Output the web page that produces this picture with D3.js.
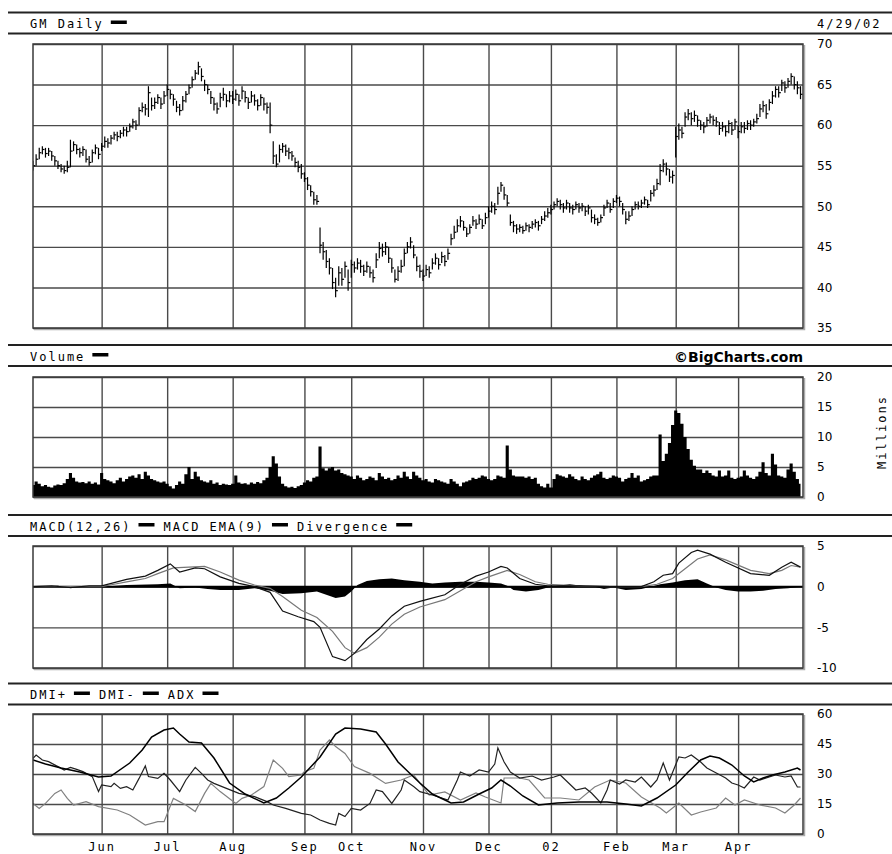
<!DOCTYPE html>
<html>
<head>
<meta charset="utf-8">
<script src="https://cdn.jsdelivr.net/npm/d3@7"></script>
<style>
  body { margin: 0; background: #fff; }
  svg { display: block; }
  .hdr { font-family: "DejaVu Sans Mono", monospace; font-size: 12px; letter-spacing: 2px; fill: #000; }
  .rule { stroke: #222; stroke-width: 1.8; }
  .yaxis .domain, .xaxis .domain, .mlab .domain { display: none; }
  .yaxis line, .xaxis line { stroke: #4a4a4a; stroke-width: 1.4; }
  .yaxis text { font-family: "DejaVu Sans", sans-serif; font-size: 12px; fill: #000; }
  .mlab line { display: none; }
  .mlab text { font-family: "DejaVu Sans Mono", monospace; font-size: 12px; letter-spacing: 2px; fill: #000; }
</style>
</head>
<body>
<svg id="chart" width="892" height="854"></svg>
<script>
// trading-day index 0 = May 1 2001, 246 = Apr 29 2002
const monthLabels = ['Jun', 'Jul', 'Aug', 'Sep', 'Oct', 'Nov', 'Dec', '02', 'Feb', 'Mar', 'Apr']
const monthStart = [22, 43, 64, 87, 102, 125, 146, 166, 187, 206, 226]

const priceTicks = [35, 40, 45, 50, 55, 60, 65, 70]
const volTicks = [0, 5, 10, 15, 20]
const macdTicks = [-10, -5, 0, 5]
const dmiTicks = [0, 15, 30, 45, 60]

const close = [
  55.0, 55.8, 56.6, 57.0, 56.5, 56.8, 56.2, 55.6, 55.0, 54.6, 54.4,
  54.8, 56.8, 57.6, 57.0, 56.6, 57.0, 55.8, 55.4, 56.6, 57.2, 56.4,
  57.4, 58.0, 57.8, 58.4, 58.8, 58.6, 59.0, 59.4, 59.2, 59.8, 60.4,
  60.0, 61.8, 62.2, 62.0, 64.0, 62.4, 62.8, 63.4, 62.6, 63.6,
  64.4, 63.8, 63.2, 62.2, 61.8, 63.0, 63.8, 64.6, 65.6, 66.4, 67.2,
  66.0, 65.0, 64.4, 63.4, 62.6, 62.0, 63.4, 63.8, 63.0, 63.6,
  63.2, 63.8, 63.0, 64.2, 63.4, 62.8, 63.6, 63.0, 62.4, 63.4, 62.6, 62.2,
  60.0, 56.2, 55.2, 57.0, 57.4, 56.8, 56.6, 56.2, 55.4, 54.8, 54.0,
  53.4, 52.6, 51.8, 50.8, 50.6,
  45.2, 44.4, 43.2, 42.4, 40.6, 39.6, 41.8, 41.0, 42.6, 40.6,
  42.8, 42.4, 43.0, 42.6, 42.0, 42.6, 41.8, 41.2, 43.4, 44.8, 44.4,
  45.0, 43.6, 42.4, 41.0, 42.0, 42.6, 44.2, 45.0, 45.6, 44.0, 42.6, 42.0,
  41.4, 42.2, 41.8, 43.0, 43.6, 42.8, 43.8, 43.2, 44.2, 46.0, 46.8,
  47.6, 48.2, 47.4, 46.6, 47.4, 48.2, 47.8, 48.4, 47.6, 48.6,
  49.4, 50.0, 49.6, 51.6, 52.6, 51.4, 50.4, 48.0, 47.6, 47.2,
  47.4, 47.0, 47.6, 47.4, 47.8, 48.0, 47.6, 48.4, 48.8, 49.2,
  49.6, 50.2, 50.6, 50.2, 49.8, 50.4, 49.8, 49.6, 50.2, 49.8, 50.0,
  49.4, 49.8, 48.6, 48.4, 48.0, 48.6, 49.8, 50.4, 49.6, 50.6,
  51.0, 50.6, 49.6, 48.4, 48.8, 49.6, 50.2, 50.0, 50.4, 50.8,
  50.2, 51.6, 52.0, 52.8, 54.4, 55.2, 54.6, 53.6, 53.8,
  58.6, 59.4, 59.0, 61.0, 61.4, 60.8, 61.2, 60.6, 60.0, 59.8,
  60.6, 61.0, 60.6, 60.4, 59.6, 59.8, 59.2, 60.2, 59.4, 60.4,
  59.2, 59.8, 59.6, 60.2, 60.0, 60.4, 60.8, 62.0, 62.4, 61.4, 62.8,
  63.6, 64.4, 64.0, 65.2, 64.6, 65.4, 66.0, 65.0, 64.6, 63.8
]

const high = [
  55.6, 56.4, 57.2, 57.4, 57.2, 57.2, 56.8, 56.2, 55.6, 55.2, 55.0,
  55.6, 58.2, 58.0, 57.6, 57.2, 57.4, 57.0, 56.2, 57.0, 57.6, 57.2,
  57.8, 58.6, 58.4, 58.8, 59.2, 59.2, 59.4, 59.8, 59.8, 60.2, 60.8,
  60.6, 62.2, 62.8, 62.6, 64.8, 63.4, 63.4, 63.8, 63.4, 64.2,
  65.0, 64.4, 63.8, 63.0, 62.6, 63.6, 64.2, 65.0, 66.0, 66.8, 67.8,
  67.0, 65.6, 65.0, 64.2, 63.4, 62.8, 64.0, 64.6, 63.8, 64.2,
  64.2, 64.4, 63.8, 64.8, 64.2, 63.4, 64.2, 63.8, 63.2, 63.8, 63.4, 62.8,
  62.8, 58.0, 56.4, 57.6, 57.8, 57.6, 57.2, 56.8, 56.0, 55.6, 55.2,
  54.2, 53.6, 52.6, 51.8, 51.4,
  47.4, 45.6, 44.6, 43.6, 42.4, 41.2, 42.6, 42.4, 43.2, 42.2,
  43.4, 43.2, 43.6, 43.4, 42.8, 43.2, 42.6, 42.2, 44.2, 45.6, 45.4,
  45.6, 45.0, 43.6, 42.2, 42.6, 43.4, 44.8, 45.6, 46.2, 45.2, 43.8, 42.8,
  42.2, 42.8, 42.6, 43.6, 44.2, 43.6, 44.4, 44.0, 44.8, 46.6, 47.6,
  48.4, 48.8, 48.2, 47.4, 47.8, 48.8, 48.4, 49.0, 48.4, 49.2,
  50.0, 50.6, 50.4, 52.4, 53.0, 52.4, 51.4, 49.0, 48.2, 47.8,
  47.8, 47.6, 48.0, 47.8, 48.2, 48.4, 48.2, 48.8, 49.4, 49.8,
  50.2, 50.6, 51.0, 50.8, 50.4, 50.8, 50.4, 50.2, 50.6, 50.4, 50.4,
  50.0, 50.2, 49.6, 49.0, 48.6, 49.0, 50.2, 50.8, 50.4, 51.0,
  51.4, 51.2, 50.4, 49.4, 49.4, 50.0, 50.6, 50.6, 50.8, 51.2,
  50.8, 52.0, 52.6, 53.4, 55.2, 55.8, 55.4, 54.6, 54.4,
  59.8, 60.2, 59.8, 61.6, 62.0, 61.6, 61.8, 61.2, 60.6, 60.4,
  61.0, 61.4, 61.2, 61.0, 60.4, 60.4, 60.0, 60.6, 60.4, 60.8,
  60.0, 60.4, 60.4, 60.6, 60.6, 60.8, 61.4, 62.6, 63.0, 62.6, 63.2,
  64.2, 64.8, 64.8, 65.6, 65.4, 65.8, 66.4, 66.0, 65.4, 64.8
]

const low = [
  54.4, 55.0, 55.8, 56.4, 56.0, 56.2, 55.6, 55.0, 54.6, 54.2, 54.0,
  54.2, 54.8, 56.8, 56.4, 56.0, 56.2, 55.4, 55.0, 55.4, 56.4, 55.8,
  56.8, 57.2, 57.2, 57.6, 58.2, 58.0, 58.4, 58.6, 58.6, 59.2, 59.6,
  59.4, 60.0, 61.6, 61.2, 61.0, 61.8, 62.0, 62.6, 62.0, 62.6,
  63.6, 63.2, 62.4, 61.6, 61.2, 61.8, 62.8, 63.8, 64.6, 65.6, 66.2,
  65.4, 64.2, 63.8, 62.6, 61.8, 61.4, 62.2, 63.0, 62.2, 62.8,
  62.6, 63.0, 62.4, 63.2, 62.8, 62.0, 62.8, 62.4, 61.8, 62.4, 61.8, 61.4,
  59.0, 55.2, 54.8, 55.4, 56.6, 56.2, 55.8, 55.6, 54.8, 54.2, 53.4,
  53.0, 52.0, 51.2, 50.2, 50.2,
  44.2, 43.4, 42.4, 41.6, 39.8, 38.8, 40.2, 40.2, 41.2, 39.6,
  41.2, 41.8, 42.2, 41.8, 41.4, 41.8, 41.2, 40.6, 42.4, 43.6, 43.8,
  44.0, 43.0, 41.8, 40.6, 40.8, 41.8, 42.6, 44.2, 44.8, 43.6, 42.0, 41.2,
  40.8, 41.4, 41.2, 42.2, 42.8, 42.2, 43.0, 42.6, 43.4, 45.2, 46.0,
  46.8, 47.4, 47.0, 46.2, 46.6, 47.6, 47.2, 47.8, 47.2, 47.8,
  48.6, 49.2, 49.0, 50.2, 51.8, 50.8, 50.0, 47.6, 46.8, 46.6,
  46.8, 46.6, 47.0, 46.8, 47.2, 47.4, 47.0, 47.8, 48.2, 48.6,
  49.0, 49.6, 50.0, 49.6, 49.2, 49.6, 49.2, 49.0, 49.6, 49.2, 49.4,
  48.8, 49.0, 48.0, 47.8, 47.6, 48.0, 48.8, 49.8, 49.2, 49.8,
  50.4, 50.0, 49.0, 47.8, 48.2, 48.8, 49.6, 49.6, 49.8, 50.2,
  49.8, 50.6, 51.2, 52.0, 52.6, 54.2, 53.8, 53.0, 52.8,
  56.0, 58.2, 58.4, 59.8, 60.6, 60.0, 60.4, 59.8, 59.4, 59.0,
  59.8, 60.2, 60.0, 59.8, 58.8, 59.2, 58.6, 59.0, 58.8, 59.4,
  58.4, 59.0, 59.0, 59.4, 59.4, 59.8, 60.2, 61.0, 61.6, 60.8, 61.8,
  62.6, 63.4, 63.4, 64.2, 64.0, 64.6, 65.0, 64.4, 63.8, 63.2
]

// millions of shares
const volume = [
  2.0, 2.6, 2.2, 1.8, 2.0, 1.7, 1.6, 1.9, 2.1, 2.0, 2.3,
  3.0, 4.0, 3.2, 2.6, 2.4, 2.5, 2.3, 2.6, 2.2, 2.4, 2.1,
  4.0, 3.0, 2.8, 2.6, 2.3, 2.8, 3.2, 2.6, 3.0, 3.4, 3.6,
  3.2, 3.8, 3.0, 4.2, 3.6, 3.0, 2.8, 2.6, 2.4, 2.6, 2.2,
  1.8, 1.4, 2.0, 2.6, 2.2, 3.8, 5.0, 3.0, 4.2, 3.4, 2.8,
  2.6, 2.4, 2.8, 2.2, 2.4, 2.0, 2.2, 2.1, 2.0, 2.2, 3.6,
  2.4, 2.2, 2.3, 2.1, 2.4, 2.2, 2.5, 2.3, 2.8, 3.2, 5.0,
  6.8, 5.6, 3.4, 2.2, 1.8, 1.6, 1.7, 1.5, 1.8, 2.0, 2.4,
  2.8, 2.6, 3.2, 3.4, 8.4, 4.8, 4.4, 4.8, 5.0, 4.4, 4.6,
  4.0, 3.8, 3.6, 3.4, 3.0, 3.6, 3.2, 2.8, 3.0, 3.4, 3.2,
  2.8, 4.0, 3.4, 3.0, 3.2, 2.8, 3.0, 3.6, 3.2, 4.2, 3.4,
  3.0, 4.2, 3.6, 3.2, 2.8, 3.0, 2.6, 2.4, 3.0, 2.8, 2.6,
  2.4, 2.2, 3.0, 2.6, 2.2, 1.8, 2.4, 2.6, 2.8, 3.2, 3.0,
  3.2, 3.6, 3.4, 3.0, 2.8, 3.0, 3.6, 3.4, 3.2, 8.6, 4.6,
  3.6, 3.4, 3.4, 3.4, 3.2, 3.4, 3.0, 3.2, 2.2, 1.8, 1.6,
  2.2, 1.6, 3.0, 3.8, 3.6, 3.4, 3.2, 3.8, 3.4, 3.0, 2.8,
  3.4, 3.0, 2.8, 3.2, 3.6, 3.8, 4.2, 3.2, 3.0, 3.2, 3.6,
  3.4, 3.2, 2.6, 3.0, 3.2, 4.0, 3.2, 3.6, 2.6, 2.8, 3.0,
  3.4, 3.6, 3.6, 10.4, 6.0, 7.2, 9.0, 12.0, 14.4, 14.0, 12.2,
  10.0, 8.0, 6.2, 5.2, 4.6, 4.6, 4.0, 4.4, 4.0, 3.6, 3.4,
  4.4, 3.4, 3.6, 4.4, 3.2, 3.0, 3.2, 3.4, 4.4, 3.6, 3.2,
  3.0, 3.4, 4.2, 5.8, 4.0, 3.6, 7.2, 5.4, 3.6, 3.4, 3.2,
  4.6, 5.6, 4.2, 3.0, 2.2
]

// [trading day, value]
const macd = [[0, 0], [6, 0.1], [12, -0.1], [18, 0.1], [22, 0.1], [26, 0.5], [30, 0.9], [36, 1.3], [40, 2.0], [44, 2.8], [47, 1.8], [52, 2.3], [55, 2.2], [60, 1.2], [66, 0.4], [71, 0.0], [76, -0.7], [80, -3.0], [85, -3.7], [90, -4.3], [92, -5.0], [96, -8.6], [100, -9.1], [103, -8.2], [107, -6.5], [111, -5.2], [115, -3.6], [119, -2.4], [124, -1.8], [127, -1.5], [132, -1.0], [137, 0.3], [142, 1.3], [146, 1.8], [150, 2.5], [152, 2.3], [156, 1.0], [161, 0.3], [165, 0.1], [175, 0.1], [185, 0.0], [195, 0.0], [199, 0.6], [202, 1.4], [205, 1.6], [207, 2.9], [211, 4.2], [213, 4.5], [217, 4.0], [222, 3.0], [230, 1.6], [236, 1.4], [240, 2.4], [243, 3.0], [246, 2.4]]

const macdEma = [[0, 0], [22, 0.0], [26, 0.3], [30, 0.6], [36, 1.0], [40, 1.6], [45, 2.3], [50, 2.4], [55, 2.5], [60, 1.8], [66, 0.8], [71, 0.2], [76, -0.2], [80, -1.2], [86, -2.9], [91, -3.8], [96, -5.5], [100, -7.5], [103, -8.2], [107, -7.5], [111, -6.2], [115, -4.6], [119, -3.4], [124, -2.5], [132, -1.6], [137, -0.5], [142, 0.6], [146, 1.2], [152, 2.0], [156, 1.5], [161, 0.6], [165, 0.3], [175, 0.1], [185, 0.0], [195, 0.0], [200, 0.3], [205, 1.0], [209, 2.2], [213, 3.4], [217, 3.9], [222, 3.3], [230, 2.0], [236, 1.6], [240, 2.0], [243, 2.6], [246, 2.4]]

const divergence = [[0, 0], [8, 0.1], [12, -0.2], [16, 0], [22, 0], [30, 0.2], [40, 0.3], [44, 0.4], [47, -0.2], [52, -0.1], [56, -0.3], [60, -0.4], [66, -0.4], [71, -0.2], [76, -0.5], [80, -0.9], [86, -0.8], [91, -0.6], [94, -1.0], [97, -1.4], [100, -1.2], [102, -0.6], [104, 0.2], [107, 0.7], [111, 0.9], [115, 1.0], [119, 0.8], [124, 0.6], [128, 0.4], [132, 0.5], [137, 0.6], [142, 0.6], [146, 0.5], [150, 0.4], [152, 0.1], [154, -0.4], [158, -0.6], [162, -0.4], [165, -0.1], [168, 0.1], [172, 0.3], [176, 0.1], [180, 0], [183, -0.3], [186, -0.1], [190, -0.4], [195, -0.3], [198, 0], [201, 0.3], [205, 0.5], [209, 0.8], [213, 0.9], [216, 0.4], [219, -0.1], [222, -0.4], [226, -0.6], [230, -0.6], [234, -0.5], [238, -0.3], [242, -0.2], [246, 0]]

const dmiPlus = [[0, 37.8], [1, 39.5], [3, 37], [5, 36.2], [8, 33.7], [10, 32], [12, 33.3], [14, 32.3], [16, 31.2], [19, 28.7], [21, 21.2], [22, 24.5], [25, 23.7], [26, 25.3], [28, 22.8], [30, 23.7], [32, 22], [34, 27.8], [36, 34], [37, 28.7], [40, 27.8], [42, 30.3], [44, 27], [47, 21.2], [49, 27], [52, 33.3], [54, 30.3], [56, 27], [58, 25.3], [62, 22.8], [66, 20.3], [71, 18.7], [75, 16.2], [77, 14.5], [81, 12.8], [86, 10.3], [89, 9.5], [92, 7], [95, 5.3], [97, 4.5], [98, 10.3], [100, 8.7], [102, 12.8], [105, 12], [108, 15.3], [110, 22], [112, 21.2], [115, 15.3], [118, 22], [119, 27], [122, 23.7], [124, 21.2], [128, 19.5], [131, 18], [133, 17], [136, 27], [137, 31], [140, 29], [143, 32], [146, 31], [148, 35], [149, 43], [151, 36], [153, 31], [156, 28], [160, 29], [163, 27], [167, 28.5], [169, 29.5], [172, 25], [174, 22], [177, 23], [179, 20.5], [182, 15.5], [184, 22], [185, 27], [188, 25], [190, 27], [193, 26], [195, 28.5], [198, 23.5], [200, 27], [202, 35.5], [204, 27], [207, 38.5], [209, 38], [211, 39.5], [214, 36], [216, 33], [219, 30.5], [222, 28], [224, 25.5], [226, 24.5], [228, 23], [231, 28.5], [233, 27], [236, 28.5], [238, 29.5], [241, 28.5], [243, 29], [245, 23.5], [246, 23.5]]

const dmiMinus = [[0, 15.3], [2, 12.8], [4, 15.3], [7, 20.3], [9, 22], [11, 17.8], [13, 14.5], [17, 16.2], [21, 13.7], [27, 12], [31, 9.5], [36, 4.5], [40, 6.2], [42, 6.2], [45, 17.8], [49, 14.5], [52, 11.2], [55, 20.3], [57, 25.3], [60, 21.2], [65, 15.3], [67, 17.8], [70, 19.5], [74, 23.7], [77, 37], [80, 32.8], [82, 28.7], [86, 29.5], [87, 31.2], [90, 32.8], [92, 42], [95, 47], [97, 43.7], [100, 40.3], [103, 33.7], [108, 30.3], [113, 25.3], [118, 27], [122, 29.5], [127, 19.5], [132, 21], [137, 17], [142, 20.5], [145, 18.5], [150, 15.5], [151, 28], [156, 28], [159, 27], [164, 18], [169, 18], [175, 17], [180, 23.5], [185, 27], [190, 25.5], [195, 18.5], [201, 13], [203, 10.5], [207, 15.5], [211, 9.5], [214, 11], [219, 13], [222, 18], [225, 14.5], [228, 17], [233, 14.5], [238, 13], [241, 10.5], [244, 14.5], [246, 18]]

const adx = [[0, 37], [4, 35], [9, 33], [15, 31], [21, 28.5], [25, 29], [31, 35.5], [35, 42], [38, 48.5], [42, 52], [45, 53], [47, 50], [50, 46], [54, 45.5], [58, 38], [63, 25.5], [68, 20], [74, 15.5], [78, 18], [82, 23], [86, 28.5], [92, 38.5], [97, 50], [100, 53], [105, 52.5], [110, 51], [113, 45], [117, 36], [121, 30], [124, 25.5], [128, 20], [134, 15.5], [138, 16], [143, 20], [147, 23], [150, 27], [153, 24], [157, 19], [162, 14.5], [168, 15.5], [175, 16], [184, 16], [190, 15], [195, 14], [200, 18], [206, 24.5], [210, 31], [214, 37], [217, 39], [220, 38], [224, 34.5], [228, 29], [231, 26], [234, 28], [237, 29.5], [241, 31], [245, 33], [246, 32]]

const svg = d3.select('#chart')
const left = 33
const right = 803

const x = d3.scaleLinear().domain([0, 246.8]).range([left, right])

let clipCount = 0

function panel(top, bottom, domain, ticks) {
  const y = d3.scaleLinear().domain(domain).range([bottom, top])
  const g = svg.append('g')

  g.append('g')
    .attr('class', 'yaxis')
    .attr('transform', `translate(${right},0)`)
    .call(d3.axisRight(y).tickValues(ticks).tickSize(-(right - left)).tickPadding(14).tickFormat(d => String(d)))

  g.append('g')
    .attr('class', 'xaxis')
    .attr('transform', `translate(0,${bottom})`)
    .call(d3.axisBottom(x).tickValues(monthStart).tickSize(-(bottom - top)).tickFormat(''))

  const id = 'clip' + clipCount++
  svg.append('clipPath').attr('id', id)
    .append('rect').attr('x', left).attr('y', top).attr('width', right - left).attr('height', bottom - top)

  const plot = g.append('g').attr('clip-path', `url(#${id})`)

  // frame + light shadow on right / bottom
  g.append('path')
    .attr('d', `M${right + 1.5},${top + 1}V${bottom + 1.5}H${left + 1}`)
    .attr('fill', 'none').attr('stroke', '#aaa').attr('stroke-width', 1.5)
  g.append('rect')
    .attr('x', left).attr('y', top).attr('width', right - left).attr('height', bottom - top)
    .attr('fill', 'none').attr('stroke', '#3a3a3a').attr('stroke-width', 1.5)

  return { y, plot }
}

function header(top, items) {
  svg.append('line').attr('class', 'rule').attr('x1', 8).attr('x2', 892).attr('y1', top).attr('y2', top)
  svg.append('line').attr('class', 'rule').attr('x1', 8).attr('x2', 892).attr('y1', top + 21).attr('y2', top + 21)
  let cx = 30
  items.forEach(t => {
    const tx = svg.append('text').attr('class', 'hdr').attr('x', cx).attr('y', top + 15.5).text(t)
    cx += tx.node().getComputedTextLength() + 7
    svg.append('rect').attr('x', cx).attr('y', top + 8).attr('width', 16).attr('height', 3.5).attr('fill', '#000')
    cx += 16 + 9
  })
}

// ---- headers ----
header(12.5, ['GM Daily'])
svg.append('text').attr('class', 'hdr').attr('x', 817).attr('y', 28).text('4/29/02')

header(345, ['Volume'])
svg.append('text')
  .attr('x', 803).attr('y', 361.5)
  .attr('text-anchor', 'end')
  .style('font-family', '"DejaVu Sans", sans-serif')
  .style('font-weight', 'bold')
  .style('font-size', '14px')
  .text('©BigCharts.com')

header(515, ['MACD(12,26)', 'MACD EMA(9)', 'Divergence'])
header(683.5, ['DMI+', 'DMI-', 'ADX'])

// ---- price ----
const price = panel(44, 328, [35, 70], priceTicks)
const days = d3.range(close.length)

price.plot.selectAll('.hl')
  .data(days)
  .join('line')
  .attr('class', 'hl')
  .attr('x1', i => x(i)).attr('x2', i => x(i))
  .attr('y1', i => price.y(high[i])).attr('y2', i => price.y(low[i]))
  .attr('stroke', '#000').attr('stroke-width', 1.2)

price.plot.selectAll('.cl')
  .data(days)
  .join('line')
  .attr('class', 'cl')
  .attr('x1', i => x(i)).attr('x2', i => x(i) + 2.2)
  .attr('y1', i => price.y(close[i])).attr('y2', i => price.y(close[i]))
  .attr('stroke', '#000').attr('stroke-width', 1.2)

// ---- volume ----
const vol = panel(377, 497, [0, 20], volTicks)
vol.plot.append('path')
  .datum(days)
  .attr('fill', '#000')
  .attr('d', d3.area().curve(d3.curveStep)
    .x(i => x(i)).y0(vol.y(0)).y1(i => vol.y(volume[i])))

svg.append('text')
  .attr('class', 'hdr')
  .attr('transform', 'translate(886,432) rotate(-90)')
  .attr('text-anchor', 'middle')
  .text('Millions')

// ---- MACD ----
const mac = panel(546, 668, [-10, 5], macdTicks)
mac.plot.append('path')
  .datum(divergence)
  .attr('fill', '#000')
  .attr('d', d3.area().x(d => x(d[0])).y0(mac.y(0)).y1(d => mac.y(d[1])))
mac.plot.append('line')
  .attr('x1', left).attr('x2', right)
  .attr('y1', mac.y(0)).attr('y2', mac.y(0))
  .attr('stroke', '#000').attr('stroke-width', 2)

const lineGen = yScale => d3.line().x(d => x(d[0])).y(d => yScale(d[1]))

mac.plot.append('path').datum(macdEma)
  .attr('fill', 'none').attr('stroke', '#777').attr('stroke-width', 1.2)
  .attr('d', lineGen(mac.y))
mac.plot.append('path').datum(macd)
  .attr('fill', 'none').attr('stroke', '#111').attr('stroke-width', 1.2)
  .attr('d', lineGen(mac.y))

// ---- DMI ----
const dmi = panel(714, 834, [0, 60], dmiTicks)
dmi.plot.append('path').datum(dmiMinus)
  .attr('fill', 'none').attr('stroke', '#808080').attr('stroke-width', 1.2)
  .attr('d', lineGen(dmi.y))
dmi.plot.append('path').datum(dmiPlus)
  .attr('fill', 'none').attr('stroke', '#222').attr('stroke-width', 1.2)
  .attr('d', lineGen(dmi.y))
dmi.plot.append('path').datum(adx)
  .attr('fill', 'none').attr('stroke', '#000').attr('stroke-width', 1.5)
  .attr('d', lineGen(dmi.y))

// month labels under the last panel
svg.append('g')
  .attr('class', 'mlab')
  .attr('transform', 'translate(0,834)')
  .call(d3.axisBottom(x).tickValues(monthStart).tickSize(0).tickPadding(8)
    .tickFormat((d, k) => monthLabels[k]))
</script>
</body>
</html>
